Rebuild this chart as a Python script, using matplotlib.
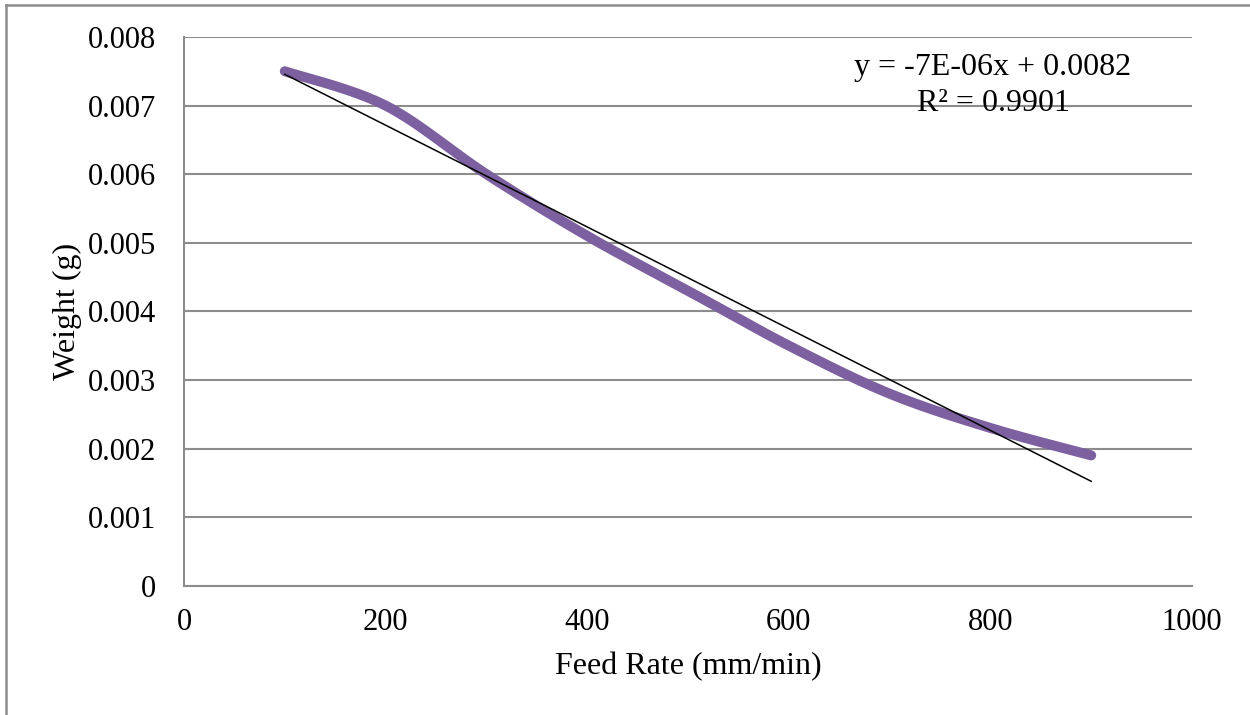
import numpy as np
import matplotlib.pyplot as plt
from matplotlib.lines import Line2D

# feed rate sweep and measured weight
feed_rate = [100, 200, 300, 400, 500, 600, 700, 800, 900]
weight = [0.0075, 0.0070, 0.0060, 0.0051, 0.0043, 0.0035, 0.0028, 0.0023, 0.0019]

eq_label = 'y = -7E-06x + 0.0082'
r2_label = 'R\u00b2 = 0.9901'

PURPLE = '#7D60A0'
GRID = '#8C8C8C'


def smooth_curve(x, y, n=40):
    """Spreadsheet-style smoothed line: cubic Bezier segments with
    Catmull-Rom control points (tension 1/6)."""
    x = np.asarray(x, float); y = np.asarray(y, float)
    px = np.concatenate([[x[0]], x, [x[-1]]])
    py = np.concatenate([[y[0]], y, [y[-1]]])
    xs, ys = [], []
    t = np.linspace(0, 1, n)
    for i in range(1, len(px) - 2):
        p0 = np.array([px[i], py[i]]); p3 = np.array([px[i + 1], py[i + 1]])
        c1 = p0 + (np.array([px[i + 1], py[i + 1]]) - np.array([px[i - 1], py[i - 1]])) / 6
        c2 = p3 - (np.array([px[i + 2], py[i + 2]]) - np.array([px[i], py[i]])) / 6
        b = ((1 - t) ** 3)[:, None] * p0 + (3 * (1 - t) ** 2 * t)[:, None] * c1 \
            + (3 * (1 - t) * t ** 2)[:, None] * c2 + (t ** 3)[:, None] * p3
        xs.append(b[:, 0]); ys.append(b[:, 1])
    return np.concatenate(xs), np.concatenate(ys)


plt.rcParams['font.family'] = ['Liberation Serif', 'DejaVu Serif']

fig = plt.figure(figsize=(12.5, 7.15), dpi=100)
fig.patch.set_facecolor('white')
ax = fig.add_axes([0.1472, 0.1808, 0.8064, 0.7675])

sx, sy = smooth_curve(feed_rate, weight)
ax.plot(sx, sy, color=PURPLE, lw=7.2, solid_capstyle='round', zorder=3)

slope, icpt = np.polyfit(feed_rate, weight, 1)
fx = np.array([feed_rate[0], feed_rate[-1]], float)
ax.plot(fx, slope * fx + icpt, color='black', lw=1.1, zorder=4)

ax.text(0.8026, 0.945, eq_label, transform=ax.transAxes, ha='center',
        va='center', fontsize=23)
ax.text(0.8026, 0.878, r2_label, transform=ax.transAxes, ha='center',
        va='center', fontsize=23)

ax.set_xlim(0, 1000)
ax.set_ylim(0, 0.008)
ax.set_xticks(np.arange(0, 1001, 200))
ax.set_yticks(np.arange(0, 0.0081, 0.001))
ax.set_yticklabels(['0'] + [f'{v:.3f}' for v in np.arange(0.001, 0.0081, 0.001)])
ax.tick_params(length=0, labelsize=22)
ax.tick_params(axis='y', pad=20)
ax.tick_params(axis='x', pad=16)
ax.grid(axis='y', color=GRID, lw=1.5)
ax.set_axisbelow(True)
for side in ('top', 'right'):
    ax.spines[side].set_visible(False)
for side in ('left', 'bottom'):
    ax.spines[side].set_color(GRID)
    ax.spines[side].set_linewidth(1.5)

ax.set_xlabel('Feed Rate (mm/min)', fontsize=23, labelpad=11)
ax.set_ylabel('Weight (g)', fontsize=23, labelpad=4)

# chart-area frame
fig.add_artist(Line2D([0.005, 0.005], [0, 0.993], transform=fig.transFigure,
                      color=GRID, lw=1.8))
fig.add_artist(Line2D([0.005, 1.0], [0.993, 0.993], transform=fig.transFigure,
                      color=GRID, lw=1.8))

fig.savefig('out.png', dpi=100, facecolor='white')
